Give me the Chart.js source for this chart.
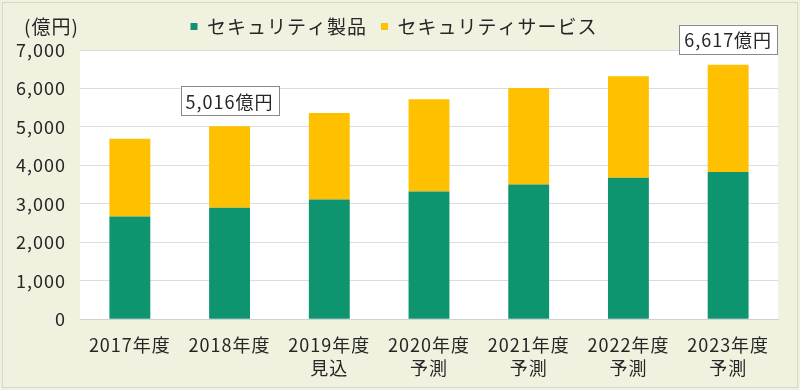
<!DOCTYPE html>
<html>
<head>
<meta charset="utf-8">
<script src="https://cdn.jsdelivr.net/npm/chart.js@4.4.1/dist/chart.umd.min.js"></script>
<style>
  html, body { margin: 0; padding: 0; background: #f1f1df; }
  #wrap { width: 800px; height: 390px; position: relative; }
</style>
</head>
<body>
<div id="wrap"><canvas id="chart"></canvas></div>
<script>
// data
const years = [
  ['2017年度'],
  ['2018年度'],
  ['2019年度', '見込'],
  ['2020年度', '予測'],
  ['2021年度', '予測'],
  ['2022年度', '予測'],
  ['2023年度', '予測'],
];
const products = [2670, 2900, 3110, 3320, 3500, 3680, 3830];
const services = [2020, 2116, 2250, 2400, 2510, 2640, 2787];
const calloutIdx = [1, 6]; // bars that get a total box
const unitLabel = '(億円)';

const FONT = '"Noto Sans CJK JP", "Noto Sans", sans-serif';
const GREEN = '#0f9470';
const YELLOW = '#ffc000';
const TEXT = '#262626';

// the reference font is set wide, so space the letters a bit
const spacing = {
  id: 'spacing',
  beforeLayout(chart) { chart.ctx.letterSpacing = '1px'; },
  beforeDraw(chart) { chart.ctx.letterSpacing = '1px'; },
};

// white plot area + background frame
const backdrop = {
  id: 'backdrop',
  beforeInit(chart) {
    // a little extra room under the legend
    const fit = chart.legend.fit;
    chart.legend.fit = function () {
      fit.call(this);
      this.height += 4;
    };
  },
  beforeDraw(chart) {
    const { ctx, chartArea: a, width, height } = chart;
    ctx.save();
    ctx.fillStyle = '#f1f1df';
    ctx.fillRect(0, 0, width, height);
    ctx.strokeStyle = '#d8d8c8';
    ctx.lineWidth = 1;
    ctx.strokeRect(2.5, 2.5, width - 5, height - 5);
    ctx.fillStyle = '#ffffff';
    ctx.fillRect(a.left, a.top, a.right - a.left, a.bottom - a.top);
    ctx.restore();
  },
  afterDraw(chart) {
    const { ctx } = chart;
    ctx.save();
    ctx.font = '19px ' + FONT;
    ctx.fillStyle = TEXT;
    ctx.textAlign = 'left';
    ctx.textBaseline = 'middle';
    ctx.fillText(unitLabel, 24, 27);

    // total boxes above selected bars
    ctx.font = '18px ' + FONT;
    const meta = chart.getDatasetMeta(1);
    calloutIdx.forEach(i => {
      const bar = meta.data[i];
      const total = products[i] + services[i];
      const txt = total.toLocaleString('en-US') + '億円';
      const w = 98, h = 29;
      const x = bar.x - w / 2, y = bar.y - 11 - h;
      ctx.fillStyle = '#ffffff';
      ctx.fillRect(x, y, w, h);
      ctx.strokeStyle = '#8a8a8a';
      ctx.lineWidth = 1;
      ctx.strokeRect(Math.round(x) + 0.5, Math.round(y) + 0.5, w, h);
      ctx.fillStyle = TEXT;
      ctx.textAlign = 'center';
      ctx.fillText(txt, bar.x, y + h / 2 + 1);
    });
    ctx.restore();
  }
};

new Chart(document.getElementById('chart'), {
  type: 'bar',
  data: {
    labels: years,
    datasets: [
      { label: 'セキュリティ製品', data: products, backgroundColor: GREEN },
      { label: 'セキュリティサービス', data: services, backgroundColor: YELLOW },
    ],
  },
  options: {
    responsive: true,
    maintainAspectRatio: false,
    animation: false,
    barPercentage: 0.41,
    categoryPercentage: 1,
    layout: { padding: { left: 10, right: 22, top: 3, bottom: 4 } },
    plugins: {
      tooltip: { enabled: false },
      legend: {
        position: 'top',
        labels: {
          font: { family: FONT, size: 19 },
          color: TEXT,
          boxWidth: 7,
          boxHeight: 7,
          padding: 14,
        },
      },
    },
    scales: {
      x: {
        stacked: true,
        grid: { display: false },
        border: { color: '#d0d0d0' },
        ticks: { font: { family: FONT, size: 18, lineHeight: 1.3 }, color: TEXT, maxRotation: 0, padding: 6 },
      },
      y: {
        stacked: true,
        min: 0,
        max: 7000,
        afterFit(scale) { scale.width = 70; },
        grid: { color: '#dcdcdc', drawTicks: false },
        border: { display: false },
        ticks: {
          stepSize: 1000,
          padding: 14,
          font: { family: FONT, size: 18 },
          color: TEXT,
          callback: v => v.toLocaleString('en-US'),
        },
      },
    },
  },
  plugins: [spacing, backdrop],
});
</script>
</body>
</html>
